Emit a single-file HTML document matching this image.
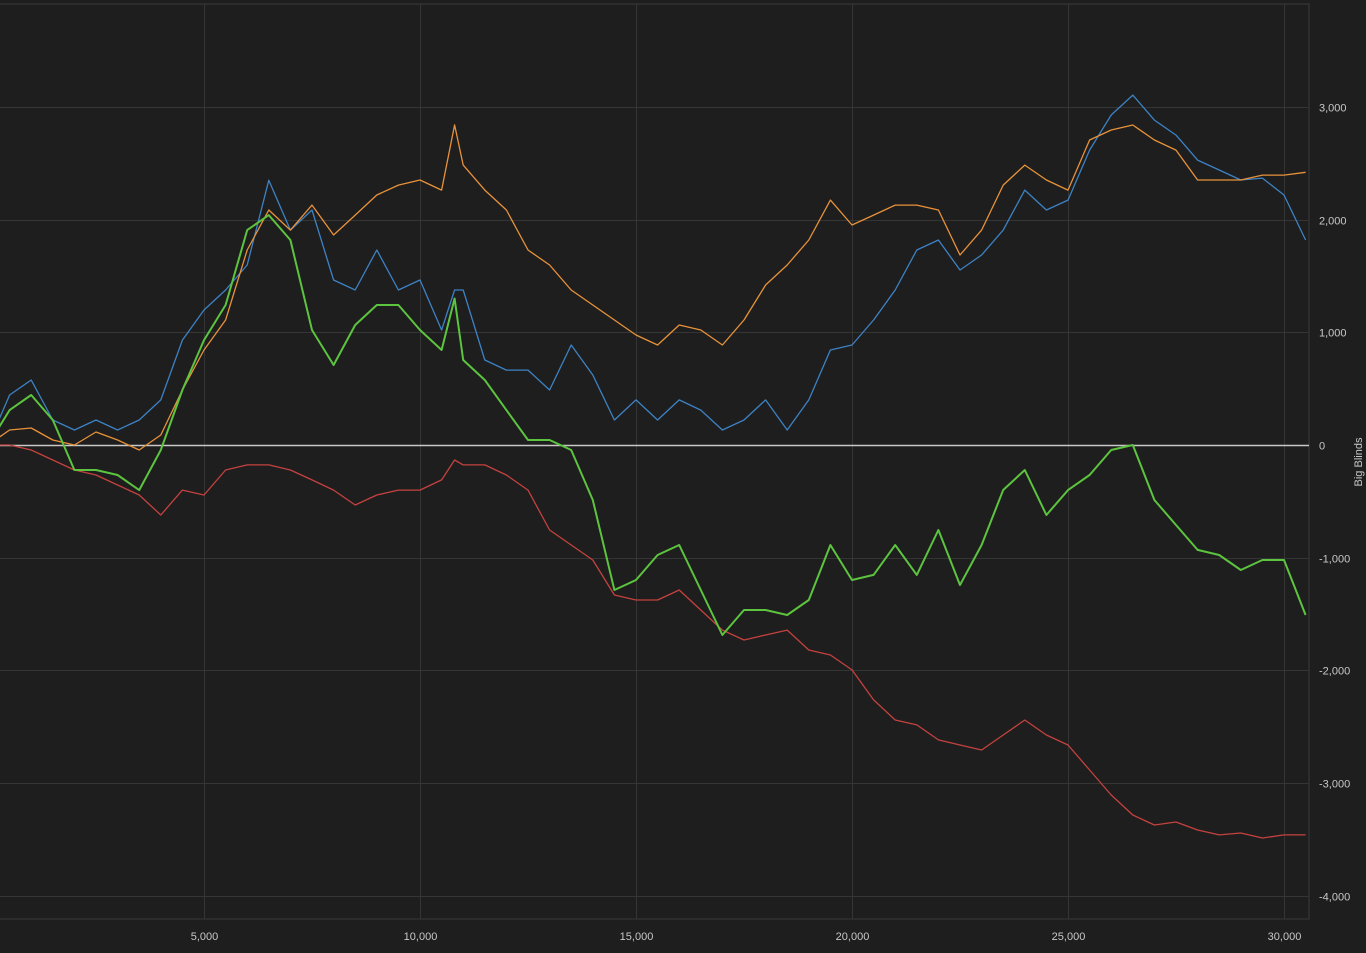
<!DOCTYPE html>
<html><head><meta charset="utf-8"><style>
html,body{margin:0;padding:0;background:#1e1e1e;width:1366px;height:953px;overflow:hidden}
svg{display:block}
text{font-family:"Liberation Sans",sans-serif;font-size:11px;fill:#c8c8c8}
</style></head><body>
<svg id="chart" width="1366" height="953" viewBox="0 0 1366 953">
<rect x="0" y="0" width="1366" height="953" fill="#1e1e1e"/>
<g id="grid"></g>
<g id="series"></g>
<g id="axes"></g>
<text x="1362" y="462" transform="rotate(-90 1362 462)" text-anchor="middle" style="font-size:11px">Big Blinds</text>
</svg>
<script>
const hands = [0,500,1000,1500,2000,2500,3000,3500,4000,4500,5000,5500,6000,6500,7000,7500,8000,8500,9000,9500,10000,10500,10800,11000,11500,12000,12500,13000,13500,14000,14500,15000,15500,16000,16500,17000,17500,18000,18500,19000,19500,20000,20500,21000,21500,22000,22500,23000,23500,24000,24500,25000,25500,26000,26500,27000,27500,28000,28500,29000,29500,30000,30500];
const blueValues = [0,444,577,222,133,222,133,222,400,931,1198,1375,1597,2350,1907,2085,1464,1375,1730,1375,1464,1020,1375,1375,754,665,665,488,887,621,222,400,222,400,310,133,222,400,133,400,843,887,1109,1375,1730,1819,1553,1686,1907,2262,2085,2173,2617,2928,3105,2883,2750,2528,2440,2351,2368,2218,1819];
const orangeValues = [0,133,151,44,0,115,44,-44,89,488,843,1109,1730,2085,1907,2129,1863,2040,2218,2306,2351,2262,2840,2484,2262,2085,1730,1597,1375,1242,1109,976,887,1065,1020,887,1109,1420,1597,1819,2173,1952,2040,2129,2129,2085,1686,1907,2306,2484,2351,2262,2706,2795,2839,2706,2617,2351,2351,2351,2395,2395,2420];
const greenValues = [0,310,444,222,-222,-222,-266,-400,-44,488,931,1242,1907,2040,1819,1020,710,1065,1242,1242,1020,843,1300,754,577,310,44,44,-44,-488,-1287,-1198,-976,-887,-1287,-1686,-1464,-1464,-1508,-1375,-887,-1198,-1153,-887,-1153,-754,-1242,-887,-399,-222,-621,-400,-266,-44,0,-488,-710,-931,-976,-1109,-1020,-1020,-1508];
const redValues = [0,0,-44,-133,-222,-266,-355,-444,-621,-400,-444,-222,-177,-177,-222,-310,-400,-532,-444,-400,-400,-310,-133,-177,-177,-266,-400,-754,-887,-1020,-1331,-1375,-1375,-1287,-1464,-1642,-1730,-1686,-1642,-1819,-1863,-1996,-2262,-2440,-2484,-2617,-2662,-2706,-2573,-2440,-2573,-2662,-2884,-3106,-3283,-3372,-3345,-3416,-3460,-3443,-3487,-3460,-3460];
const xTicks = [5000,10000,15000,20000,25000,30000];
const xTickLabels = ["5,000","10,000","15,000","20,000","25,000","30,000"];
const yTicks = [3000,2000,1000,0,-1000,-2000,-3000,-4000];
const yTickLabels = ["3,000","2,000","1,000","0","-1,000","-2,000","-3,000","-4,000"];

const NS="http://www.w3.org/2000/svg";
const plotL=0, plotR=1309, plotT=4, plotB=919;
function xs(h){return -12 + h*0.0432;}
function ys(v){return 445 - v*0.1127;}
function mk(tag,attrs,parent){const e=document.createElementNS(NS,tag);for(const k in attrs)e.setAttribute(k,attrs[k]);parent.appendChild(e);return e;}
const grid=document.getElementById('grid'), axes=document.getElementById('axes'), ser=document.getElementById('series');

let border=mk('rect',{x:plotL-1,y:plotT,width:plotR-plotL+1,height:plotB-plotT,fill:'none',stroke:'#3a3a3a','stroke-width':1},grid);


for(let i=0;i<yTicks.length;i++){
  const y=Math.round(ys(yTicks[i]))+0.5;
  if(yTicks[i]!==0){
    const l=mk('line',{x1:plotL,x2:plotR,y1:y,y2:y,stroke:'#353535','stroke-width':1},grid);
    
    
  }
  const t=mk('text',{x:1319,y:y+4},axes);
  t.textContent=yTickLabels[i];
  
  
}
for(let i=0;i<xTicks.length;i++){
  const x=Math.round(xs(xTicks[i]))+0.5;
  const l=mk('line',{x1:x,x2:x,y1:plotT,y2:plotB,stroke:'#353535','stroke-width':1},grid);
  
  
  const t=mk('text',{x:x,y:940,'text-anchor':'middle'},axes);
  t.textContent=xTickLabels[i];
  
  
}
const zl=mk('line',{x1:plotL,x2:plotR,y1:Math.round(ys(0))+0.5,y2:Math.round(ys(0))+0.5,stroke:'#c8c8c8','stroke-width':1.5},ser);



function drawSeries(vals,color,w,name){
  let d='';
  vals.forEach((v,i)=>{d+=(i?'L':'M')+xs(hands[i]).toFixed(1)+','+ys(v).toFixed(1);});
  const p=mk('path',{d:d,fill:'none',stroke:color,'stroke-width':w,'stroke-linejoin':'round'},ser);
  
  
}
drawSeries(redValues,'#c4423f',1.3,'red-line');
drawSeries(blueValues,'#3d82c4',1.3,'blue-line');
drawSeries(orangeValues,'#e8923a',1.3,'orange-line');
drawSeries(greenValues,'#5cc43e',2,'green-line');
</script>
</body></html>
